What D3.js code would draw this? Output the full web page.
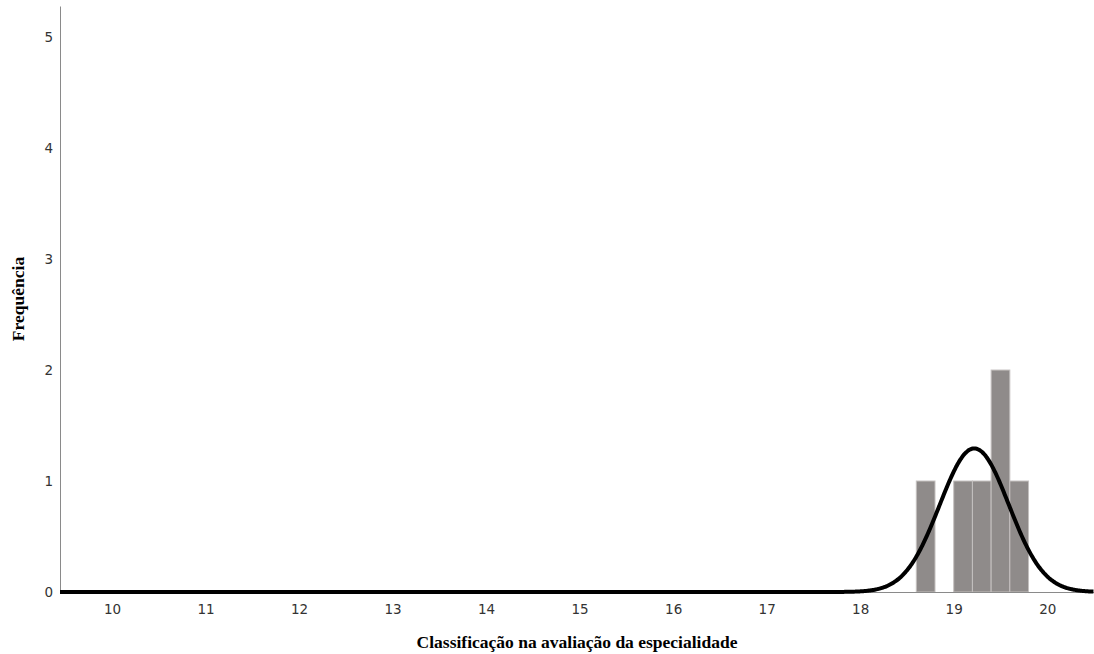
<!DOCTYPE html>
<html>
<head>
<meta charset="utf-8">
<script src="https://cdn.jsdelivr.net/npm/d3@7"></script>
<style>
  body { margin: 0; background: #fff; }
  .tick text { font-family: "DejaVu Sans", sans-serif; font-size: 13.5px; fill: #333; }
  .title { font-family: "Liberation Serif", "Times New Roman", serif; font-weight: bold; font-size: 17.5px; fill: #000; }
</style>
</head>
<body>
<div id="chart"></div>
<script>
// histogram bins (lower edge) and their counts
var binStarts = [18.6, 18.8, 19.0, 19.2, 19.4, 19.6];
var counts = [1, 0, 1, 1, 2, 1];
var binWidth = 0.2;

// fitted normal curve parameters
var curveMean = 19.22;
var curveSd = 0.37;
var curveN = 6;

var xTicks = [10, 11, 12, 13, 14, 15, 16, 17, 18, 19, 20];
var yTicks = [0, 1, 2, 3, 4, 5];

var svgWidth = 1094, svgHeight = 654;
var margin = { top: 6, right: 0, bottom: 62, left: 60 };
var width = svgWidth - margin.left - margin.right;
var height = svgHeight - margin.top - margin.bottom;

var svg = d3.select("#chart").append("svg")
  .attr("width", svgWidth)
  .attr("height", svgHeight);

var chartGroup = svg.append("g")
  .attr("transform", `translate(${margin.left}, ${margin.top})`);

var xScale = d3.scaleLinear().domain([9.444, 20.5]).range([0, width]);
var yScale = d3.scaleLinear().domain([0, 5.28]).range([height, 0]);

// bars
var bars = binStarts.map((b, i) => ({ x0: b, x1: b + binWidth, n: counts[i] }));
chartGroup.selectAll("rect.bar")
  .data(bars.filter(d => d.n > 0))
  .enter()
  .append("rect")
  .attr("class", "bar")
  .attr("x", d => xScale(d.x0))
  .attr("y", d => yScale(d.n))
  .attr("width", d => xScale(d.x1) - xScale(d.x0))
  .attr("height", d => yScale(0) - yScale(d.n))
  .attr("fill", "#8f8b8a")
  .attr("stroke", "#c4c0bf")
  .attr("stroke-width", 1);

// axes
var bottomAxis = d3.axisBottom(xScale).tickValues(xTicks).tickFormat(d3.format("d")).tickSize(0).tickPadding(12);
var leftAxis = d3.axisLeft(yScale).tickValues(yTicks).tickFormat(d3.format("d")).tickSize(0).tickPadding(7);

var gx = chartGroup.append("g")
  .attr("transform", `translate(0, ${height})`)
  .call(bottomAxis);
var gy = chartGroup.append("g").call(leftAxis);
gx.select(".domain").attr("stroke", "#8a8a8a");
gy.select(".domain").attr("stroke", "#8a8a8a");

// normal curve
var scaleFactor = curveN * binWidth / (curveSd * Math.sqrt(2 * Math.PI));
var curveXs = d3.range(9.444, 20.5, 0.01);
var line = d3.line()
  .x(v => xScale(v))
  .y(v => yScale(scaleFactor * Math.exp(-0.5 * Math.pow((v - curveMean) / curveSd, 2))))
  .curve(d3.curveBasis);
chartGroup.append("path")
  .datum(curveXs)
  .attr("d", line)
  .attr("fill", "none")
  .attr("stroke", "#000")
  .attr("stroke-width", 4);

// titles
svg.append("text")
  .attr("class", "title")
  .attr("text-anchor", "middle")
  .attr("x", margin.left + width / 2)
  .attr("y", 648)
  .text("Classificação na avaliação da especialidade");

svg.append("text")
  .attr("class", "title")
  .attr("text-anchor", "middle")
  .attr("transform", `translate(24, ${margin.top + height / 2}) rotate(-90)`)
  .text("Frequência");
</script>
</body>
</html>
